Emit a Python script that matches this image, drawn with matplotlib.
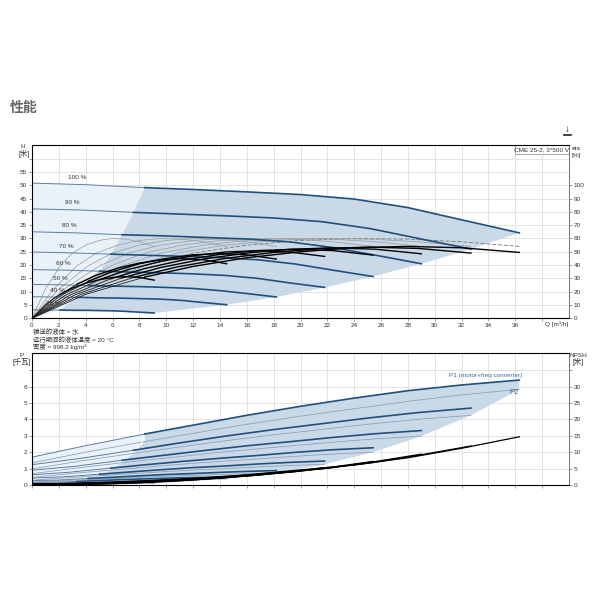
import matplotlib
matplotlib.use('Agg')
import matplotlib.pyplot as plt
from matplotlib.patches import Polygon, Rectangle
from matplotlib.lines import Line2D

plt.rcParams['font.family'] = ['Liberation Sans', 'Noto Sans CJK SC', 'DejaVu Sans']

# ---- data ----
speed_labels = ['100 %', '90 %', '80 %', '70 %', '60 %', '50 %', '40 %', '25 %']
speeds = [1.0, 0.9, 0.8, 0.7, 0.6, 0.5, 0.4, 0.25]

# flow points for every speed curve; index 2 = min. flow, last = max. flow
q_curves = [
    [0, 4, 8.4, 12, 16, 20, 24, 28, 32, 36.3],
    [0, 3.6, 7.56, 10.8, 14.4, 18, 21.6, 25.2, 28.8, 32.7],
    [0, 3.2, 6.72, 9.6, 12.8, 16, 19.2, 22.4, 25.6, 29.0],
    [0, 2.8, 5.88, 8.4, 11.2, 14, 16.8, 19.6, 22.4, 25.4],
    [0, 2.4, 5.04, 7.2, 9.6, 12, 14.4, 16.8, 19.2, 21.8],
    [0, 2, 4.2, 6, 8, 10, 12, 14, 16, 18.2],
    [0, 1.6, 3.36, 4.8, 6.4, 8, 9.6, 11.2, 12.8, 14.5],
    [0, 1, 2.1, 3, 4, 5, 6, 7, 8, 9.1],
]

h_curves = [
    [50.8, 50.2, 49.1, 48.4, 47.5, 46.5, 44.8, 41.6, 37.0, 32.1],
    [41.1, 40.7, 39.8, 39.2, 38.5, 37.7, 36.3, 33.7, 30.0, 26.0],
    [32.5, 32.1, 31.4, 31.0, 30.4, 29.8, 28.7, 26.6, 23.7, 20.5],
    [24.9, 24.6, 24.1, 23.7, 23.3, 22.8, 22.0, 20.4, 18.1, 15.7],
    [18.3, 18.1, 17.7, 17.4, 17.1, 16.7, 16.1, 15.0, 13.3, 11.6],
    [12.7, 12.6, 12.3, 12.1, 11.9, 11.6, 11.2, 10.4, 9.3, 8.0],
    [8.1, 8.0, 7.9, 7.7, 7.6, 7.4, 7.2, 6.7, 5.9, 5.1],
    [3.2, 3.1, 3.1, 3.0, 3.0, 2.9, 2.8, 2.6, 2.3, 2.0],
]

# pump efficiency (same shape at every speed)
eta_pump = [0, 22, 39.5, 49, 55, 58.5, 60, 59.5, 57.5, 54]

eta_total = [
    [0, 18, 31, 39, 45.5, 50, 53, 54, 53, 49.5],
    [0, 17.8, 30.7, 38.6, 45, 49.5, 52.5, 53.5, 52.5, 49],
    [0, 17.6, 30.4, 38.2, 44.6, 49, 51.9, 52.9, 51.9, 48.5],
    [0, 17.3, 29.8, 37.4, 43.7, 48, 50.9, 51.8, 50.9, 47.5],
    [0, 16.9, 29.1, 36.7, 42.8, 47, 49.8, 50.8, 49.8, 46.5],
    [0, 16.2, 27.9, 35.1, 41, 45, 47.7, 48.6, 47.7, 44.5],
    [0, 14.9, 25.7, 32.4, 37.8, 41.5, 44, 44.8, 44, 41],
    [0, 10.4, 18, 22.6, 26.4, 29, 30.7, 31.3, 30.7, 28.7],
]

p1_curves = [
    [1.7, 2.4, 3.11, 3.65, 4.25, 4.8, 5.3, 5.75, 6.1, 6.4],
    [1.24, 1.62, 2.12, 2.54, 2.98, 3.38, 3.74, 4.1, 4.42, 4.69],
    [0.9, 1.14, 1.51, 1.79, 2.1, 2.39, 2.64, 2.9, 3.13, 3.32],
    [0.62, 0.78, 1.03, 1.23, 1.44, 1.63, 1.8, 1.99, 2.15, 2.27],
    [0.42, 0.5, 0.66, 0.79, 0.93, 1.06, 1.16, 1.28, 1.38, 1.46],
    [0.27, 0.3, 0.4, 0.47, 0.56, 0.64, 0.7, 0.77, 0.83, 0.88],
    [0.16, 0.17, 0.22, 0.26, 0.32, 0.36, 0.4, 0.44, 0.46, 0.49],
    [0.06, 0.06, 0.08, 0.09, 0.11, 0.13, 0.13, 0.15, 0.17, 0.17],
]

p2_curves = [
    [1.35, 2.0, 2.65, 3.15, 3.7, 4.2, 4.65, 5.1, 5.5, 5.83],
    [0.98, 1.46, 1.93, 2.3, 2.7, 3.06, 3.39, 3.72, 4.01, 4.25],
    [0.69, 1.02, 1.36, 1.61, 1.89, 2.15, 2.38, 2.61, 2.82, 2.98],
    [0.46, 0.69, 0.91, 1.08, 1.27, 1.44, 1.59, 1.75, 1.89, 2.0],
    [0.29, 0.43, 0.57, 0.68, 0.8, 0.91, 1.0, 1.1, 1.19, 1.26],
    [0.17, 0.25, 0.33, 0.39, 0.46, 0.53, 0.58, 0.64, 0.69, 0.73],
    [0.09, 0.13, 0.17, 0.2, 0.24, 0.27, 0.3, 0.33, 0.35, 0.37],
    [0.02, 0.03, 0.04, 0.05, 0.06, 0.07, 0.07, 0.08, 0.09, 0.09],
]

npsh_curves = [
    [0.3, 0.6, 1.3, 2.0, 3.1, 4.6, 6.1, 8.3, 11.2, 14.7],
    [0.24, 0.49, 1.05, 1.62, 2.51, 3.73, 4.94, 6.72, 9.07, 11.9],
    [0.19, 0.38, 0.83, 1.28, 1.98, 2.94, 3.9, 5.31, 7.17, 9.41],
    [0.15, 0.29, 0.64, 0.98, 1.52, 2.25, 2.99, 4.07, 5.49, 7.2],
    [0.11, 0.22, 0.47, 0.72, 1.12, 1.66, 2.2, 2.99, 4.03, 5.29],
    [0.08, 0.15, 0.33, 0.5, 0.78, 1.15, 1.53, 2.08, 2.8, 3.68],
    [0.05, 0.1, 0.21, 0.32, 0.5, 0.74, 0.98, 1.33, 1.79, 2.35],
    [0.02, 0.04, 0.08, 0.13, 0.19, 0.29, 0.38, 0.52, 0.7, 0.92],
]

x_ticks = list(range(0, 40, 2))
h_ticks = list(range(0, 65, 5))
eta_ticks = list(range(0, 110, 10))
p_ticks = list(range(0, 8))
npsh_ticks = list(range(0, 40, 5))

info_lines = ['输送的液体 = 水', '运行期间的液体温度 = 20 °C', '密度 = 998.2 kg/m³']

LIGHT = '#e9f1f9'
DARK = '#c9d9e7'
BLUE = '#22507c'
BLUE_THIN = '#5d7d9d'
GRID = '#dedede'
TXT = '#333333'
FS = 4.6

fig = plt.figure(figsize=(6, 6), dpi=100)
fig.patch.set_facecolor('white')


def style_axes(ax, twin):
    ax.set_xlim(0, 40)
    ax.set_xticks(x_ticks)
    ax.grid(True, color=GRID, lw=0.6)
    ax.set_axisbelow(True)
    for s in ['left', 'right', 'bottom']:
        ax.spines[s].set_color('#777777')
        ax.spines[s].set_linewidth(0.7)
    ax.spines['top'].set_color('#cccccc')
    ax.spines['top'].set_linewidth(0.6)
    twin.spines['right'].set_color('#777777')
    twin.spines['right'].set_linewidth(0.7)
    for a in (ax, twin):
        a.tick_params(length=2, width=0.5, colors='#777777', labelcolor=TXT,
                      labelsize=FS, pad=1.5)


def pts(qs, vs, i0=0, i1=None):
    return list(zip(qs[i0:i1], vs[i0:i1]))


# ================= top chart: head / efficiency =================
ax = fig.add_axes([32 / 600, 1 - 318.3 / 600, 537 / 600, 173 / 600])
ax.set_ylim(0, 65)
axe = ax.twinx()
axe.set_ylim(0, 130)
style_axes(ax, axe)
ax.set_yticks(h_ticks)
ax.set_yticklabels([str(t) for t in h_ticks[:-1]] + [''])
ax.set_xticklabels([str(t) for t in x_ticks[:-1]] + [''])
axe.set_yticks(eta_ticks)

# shaded regions
light = [(0, 0)] + pts(q_curves[0], h_curves[0], 0, 3)
light += [(q[2], h[2]) for q, h in zip(q_curves[1:], h_curves[1:])]
ax.add_patch(Polygon(light, closed=True, fc=LIGHT, ec='none', zorder=1))
dark = pts(q_curves[0], h_curves[0], 2)
dark += [(q[-1], h[-1]) for q, h in zip(q_curves[1:], h_curves[1:])]
dark += pts(q_curves[-1], h_curves[-1], 2)[::-1][1:]
dark += [(q[2], h[2]) for q, h in zip(q_curves[::-1], h_curves[::-1])][1:]
ax.add_patch(Polygon(dark, closed=True, fc=DARK, ec='none', zorder=1))

# pump efficiency curves (thin gray)
for i, q in enumerate(q_curves):
    e = [v / 2 for v in eta_pump]
    if i == 0:
        ax.plot(q[:3], e[:3], color='#9a9a9a', lw=0.5, zorder=2)
        ax.plot(q[2:], e[2:], color='#777777', lw=0.6, ls=(0, (5, 2)), zorder=2)
    else:
        ax.plot(q, e, color='#9a9a9a', lw=0.5, zorder=2)

# total efficiency curves (black)
for q, et in zip(q_curves, eta_total):
    axe.plot(q[:3], et[:3], color='#222222', lw=0.6, zorder=3)
    axe.plot(q[2:], et[2:], color='black', lw=1.0, zorder=3)

# head curves
for i, (q, h) in enumerate(zip(q_curves, h_curves)):
    ax.plot(q[:3], h[:3], color=BLUE_THIN, lw=0.7, zorder=4)
    ax.plot(q[2:], h[2:], color=BLUE, lw=1.2, zorder=4)
    dx = 14 + 22 * (speeds[i] - 0.25) / 0.75
    ax.annotate(speed_labels[i], xy=(0, h[0]), xytext=(dx * 0.72, 2.5),
                textcoords='offset points', fontsize=FS, color=TXT,
                ha='left', va='bottom', zorder=5)

# type box
ax.add_patch(Rectangle((0.899, 0.947), 0.101, 0.053, transform=ax.transAxes,
                       fc='white', ec='#999999', lw=0.6, zorder=6))
ax.text(0.9495, 0.9735, 'CME 25-2, 3*500 V', transform=ax.transAxes,
        fontsize=FS, color=TXT, ha='center', va='center', zorder=7)

ax.text(39.05, -0.033, 'Q [m³/h]', transform=ax.get_xaxis_transform(),
        fontsize=FS, color=TXT, ha='center', va='center')

fig.text(23 / 600, 1 - 147 / 600, 'H', fontsize=FS, color=TXT, ha='center', va='center')
fig.text(24 / 600, 1 - 153.5 / 600, '[米]', fontsize=5.2, color=TXT, ha='center', va='center')
fig.text(576 / 600, 1 - 148 / 600, 'eta', fontsize=FS, color=TXT, ha='center', va='center')
fig.text(576 / 600, 1 - 155 / 600, '[%]', fontsize=FS, color=TXT, ha='center', va='center')

for k, line in enumerate(info_lines):
    fig.text(33 / 600, 1 - (332 + 7.5 * k) / 600, line, fontsize=FS,
             color=TXT, ha='left', va='center')

# ================= bottom chart: power / NPSH =================
bx = fig.add_axes([32 / 600, 1 - 485 / 600, 537 / 600, 132 / 600])
bx.set_ylim(0, 8.05)
bn = bx.twinx()
bn.set_ylim(0, 40.25)
style_axes(bx, bn)
bx.set_yticks(p_ticks)
bx.set_yticklabels([str(t) for t in p_ticks[:-1]] + [''])
bx.set_xticklabels([])
bn.set_yticks(npsh_ticks)
bn.set_yticklabels([str(t) for t in npsh_ticks[:-1]] + [''])

light = [(0, 0)] + pts(q_curves[0], p1_curves[0], 0, 3)
light += [(q[2], p[2]) for q, p in zip(q_curves[1:], p2_curves[1:])]
bx.add_patch(Polygon(light, closed=True, fc=LIGHT, ec='none', zorder=1))
dark = pts(q_curves[0], p1_curves[0], 2)
dark += [(q[-1], p[-1]) for q, p in zip(q_curves, p2_curves)]
dark += pts(q_curves[-1], p2_curves[-1], 2)[::-1][1:]
dark += [(q[2], p[2]) for q, p in zip(q_curves[::-1], p2_curves[::-1])][1:]
bx.add_patch(Polygon(dark, closed=True, fc=DARK, ec='none', zorder=1))

for q, p2 in zip(q_curves, p2_curves):
    bx.plot(q, p2, color='#8a9fb4', lw=0.55, zorder=2)
for q, p1 in zip(q_curves, p1_curves):
    bx.plot(q[:3], p1[:3], color=BLUE_THIN, lw=0.7, zorder=3)
    bx.plot(q[2:], p1[2:], color=BLUE, lw=1.2, zorder=3)
for q, n in zip(q_curves, npsh_curves):
    bn.plot(q, n, color='black', lw=0.9, zorder=4)

bx.text(33.8, 6.65, 'P1 (motor+freq converter)', fontsize=FS, color='#3b6a96',
        ha='center', va='center', zorder=5)
bx.text(35.9, 5.63, 'P2', fontsize=5.5, color='#3b6a96', ha='center',
        va='center', zorder=5)

fig.text(22 / 600, 1 - 355.5 / 600, 'P', fontsize=FS, color=TXT, ha='center', va='center')
fig.text(22 / 600, 1 - 362 / 600, '[千瓦]', fontsize=5.2, color=TXT, ha='center', va='center')
fig.text(578 / 600, 1 - 355.5 / 600, 'NPSH', fontsize=FS, color=TXT, ha='center', va='center')
fig.text(578 / 600, 1 - 362 / 600, '[米]', fontsize=5.2, color=TXT, ha='center', va='center')

# ================= page title and download icon =================
fig.text(10 / 600, 1 - 108 / 600, '性能', fontsize=10, color='#666666',
         fontweight='bold', ha='left', va='center')
fig.text(567 / 600, 1 - 129.5 / 600, '↓', fontsize=7, color='#222222',
         fontweight='bold', ha='center', va='center')
fig.add_artist(Line2D([563.5 / 600, 570.5 / 600], [1 - 135 / 600, 1 - 135 / 600],
                      color='#222222', lw=1.2))

fig.savefig('out.png', dpi=100, facecolor='white')
